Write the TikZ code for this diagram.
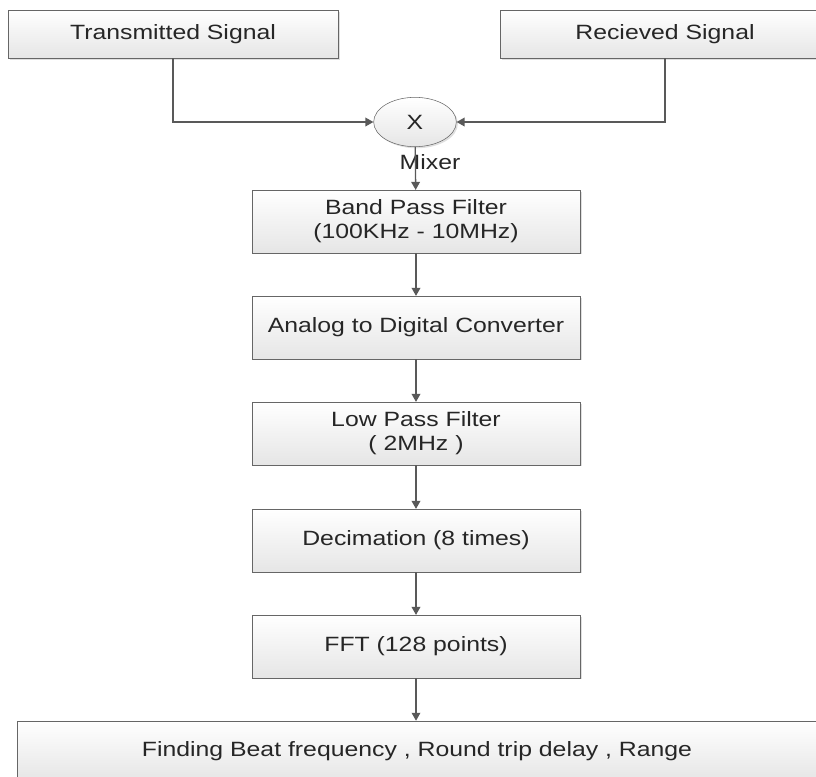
\documentclass[tikz,border=0pt]{standalone}
\usepackage{fontspec}
\setmainfont[FakeStretch=1.2]{Liberation Sans}
\usetikzlibrary{shapes.geometric,shadows,arrows.meta}

\begin{document}
\begin{tikzpicture}[x=0.75pt,y=-0.75pt,>={Triangle[length=6pt,width=6.5pt]}]
    \clip (0,0) rectangle (816,776);

        \begin{scope}[every node/.style={rectangle,draw=black!60,top color=white,bottom color=black!10,
                text=black!85,font=\fontsize{15.5}{18}\selectfont,align=center,
                minimum width=246pt,minimum height=47pt,
                drop shadow={shadow xshift=1.2pt,shadow yshift=-1.2pt,opacity=0.25}}]
            \node[minimum width=247.5pt,minimum height=36pt] (1) at (173,34) {Transmitted Signal};
            \node[minimum width=247.5pt,minimum height=36pt] (2) at (665,34) {Recieved Signal};
            \node[ellipse,minimum width=62pt,minimum height=37pt,inner sep=0pt] (3) at (415,122) {X};
            \node (4) at (416,221.5) {Band Pass Filter\\(100KHz - 10MHz)};
            \node (5) at (416,327.5) {Analog to Digital Converter};
            \node (6) at (416,433.5) {Low Pass Filter\\( 2MHz )};
            \node (7) at (416,540.5) {Decimation (8 times)};
            \node (8) at (416,646.5) {FFT (128 points)};
            \node[minimum width=600pt,minimum height=45pt] (9) at (417,751) {Finding Beat frequency , Round trip delay , Range};
        \end{scope}

        \node[text=black!85,font=\fontsize{15.5}{18}\selectfont] (mix) at (430,162) {Mixer};

        \begin{scope}[every path/.style={draw=black!65,line width=1pt}]
            \draw [->] (1) |- (3);
            \draw [->] (2) |- (3);
            \foreach \a/\b in {3/4,4/5,5/6,6/7,7/8}
                \draw [->] (\a) -- (\b);
            \draw [->] (8) -- (8 |- 9.north);
        \end{scope}

    \end{tikzpicture}
\end{document}
